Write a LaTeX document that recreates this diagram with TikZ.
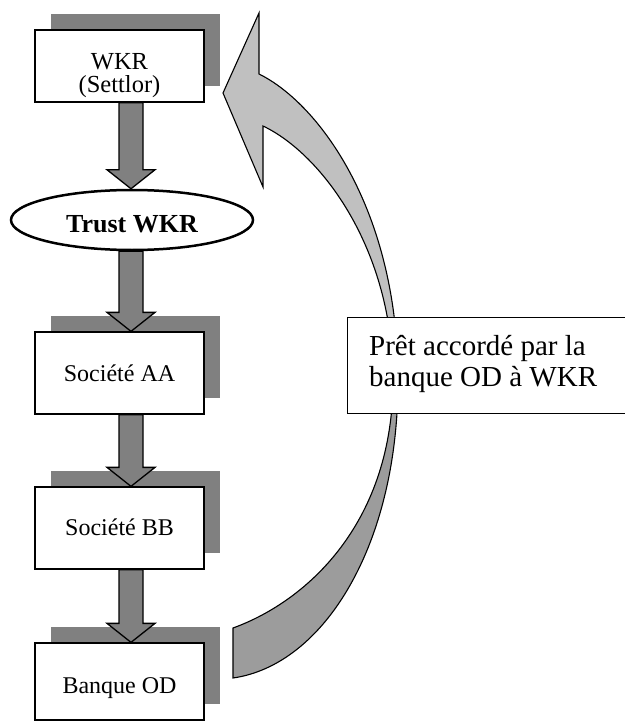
\documentclass[tikz,border=0pt]{standalone}
\usepackage{fontspec}
\setmainfont{Liberation Serif}
\usetikzlibrary{calc,shapes.geometric,shadows}

\definecolor{shadowgray}{HTML}{808080}
\definecolor{arrowgray}{HTML}{808080}
\definecolor{loanlight}{HTML}{C0C0C0}
\definecolor{loandark}{HTML}{9C9C9C}

\tikzset{
  entity/.style={draw, line width=1.3pt, fill=white, minimum width=169pt,
    inner sep=0pt, text depth=0pt, font=\fontsize{24}{28}\selectfont,
    drop shadow={shadow xshift=16pt, shadow yshift=16pt, fill=shadowgray, opacity=1}},
  entitytext/.style={inner sep=0pt, anchor=base, font=\fontsize{24.5}{28}\selectfont},
  flowarrow/.style={draw, line width=1.3pt, fill=arrowgray, line join=miter},
  loantext/.style={inner sep=0pt, anchor=base west, font=\fontsize{29}{33}\selectfont},
}

% downward block arrow from one anchor to another
\newcommand\holdsarrow[2]{%
  \draw[flowarrow] let \p1=(#1), \p2=(#2) in
    (\x1-12pt,\y1) -- (\x1+12pt,\y1) -- (\x1+12pt,\y2+19pt) -- (\x1+24pt,\y2+19pt)
    -- (\x1,\y2) -- (\x1-24pt,\y2+19pt) -- (\x1-12pt,\y2+19pt) -- cycle;}

\begin{document}
\begin{tikzpicture}[x=1pt,y=-1pt]
\useasboundingbox (0,0) rectangle (624,722);

\coordinate (axis) at (131,0);

% chain of ownership
\node[entity, minimum height=72pt] (wkr) at (119.5,66) {};
\node[entitytext] (wkrname) at (119.5,70) {WKR};
\node[entitytext] (wkrrole) at (119.5,93) {(Settlor)};

\node[draw, line width=2.5pt, fill=white, shape=ellipse, minimum width=242pt,
      minimum height=60pt, inner sep=0pt, text height=24pt, text depth=0pt,
      font=\fontsize{26}{30}\selectfont\bfseries] (trust) at (132,220) {Trust WKR};

\node[entity, minimum height=82pt, text height=16pt] (aa) at (119.5,373) {Société AA};
\node[entity, minimum height=82pt, text height=14pt] (bb) at (119.5,528) {Société BB};
\node[entity, minimum height=77pt, text height=23pt] (od) at (119.5,681.5) {Banque OD};

% loan flowing back from the bank to the settlor
\path[save path=\loanshape]
  (223,93) -- (259,13) -- (259,74)
  .. controls (320,104) and (398,212) .. (398,380)
  .. controls (398,545) and (324,665) .. (233,678)
  -- (233,628)
  .. controls (310,600) and (393,520) .. (393,380)
  .. controls (393,250) and (322,154) .. (263,126)
  -- (263,187) -- cycle;
\fill[loanlight, use path=\loanshape];
\begin{scope}
  \clip (0,365) rectangle (624,722);
  \fill[loandark, use path=\loanshape];
\end{scope}
\draw[line width=1.1pt, line join=miter, use path=\loanshape];

\node[draw, line width=1.3pt, fill=white, anchor=north west, minimum width=300pt,
      minimum height=96pt, inner sep=0pt] (loanbox) at (347,317) {};
\node[loantext] (loanline1) at (369,355) {Prêt accordé par la};
\node[loantext] (loanline2) at (369,386) {banque OD à WKR};

% ownership arrows
\holdsarrow{wkr.south -| axis}{trust.north -| axis}
\holdsarrow{trust.south -| axis}{aa.north -| axis}
\holdsarrow{aa.south -| axis}{bb.north -| axis}
\holdsarrow{bb.south -| axis}{od.north -| axis}
\end{tikzpicture}
\end{document}
